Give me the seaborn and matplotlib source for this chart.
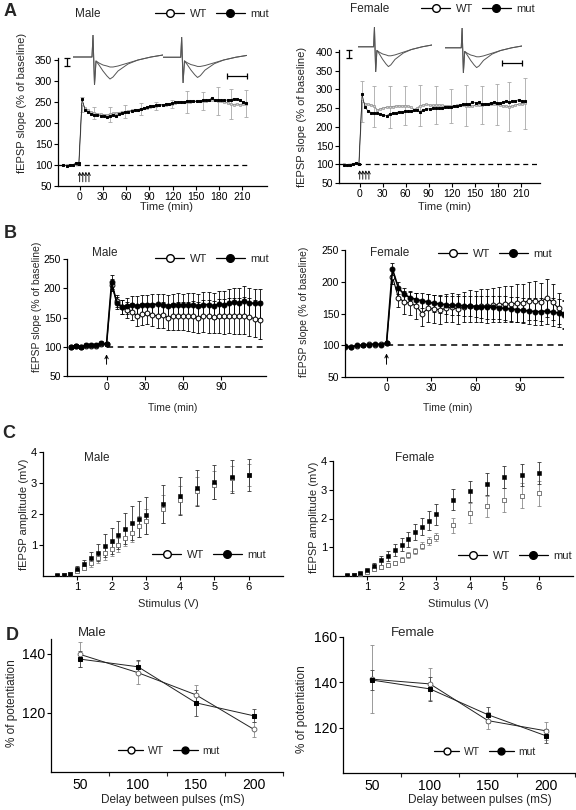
import numpy as np
import matplotlib
matplotlib.use("Agg")
import matplotlib.pyplot as plt
from matplotlib.lines import Line2D
import seaborn as sns

# -----------------------------
# Data
# -----------------------------
# A: LTP time course (sampled every 4 min)
time_a = np.arange(-21, 216, 4)
a_male_mut = [99, 98, 100, 101, 104, 105,
              258, 232, 226, 222, 220, 218, 217, 216, 215, 217,
              220, 216, 221, 224, 226, 227, 229, 231, 232, 234,
              236, 238, 240, 241, 242, 243, 244, 245, 246, 248,
              250, 250, 251, 250, 252, 253, 252, 252, 253, 254,
              255, 255, 260, 255, 256, 255, 254, 255, 256, 258,
              258, 254, 250, 248]
a_male_wt = [100, 99, 101, 100, 103, 104,
             245, 236, 230, 226, 224, 222, 221, 220, 219, 221,
             223, 224, 225, 226, 227, 229, 230, 231, 232, 233,
             235, 237, 239, 240, 241, 242, 243, 244, 245, 246,
             248, 249, 250, 250, 251, 251, 252, 252, 252, 253,
             253, 254, 255, 254, 253, 252, 250, 248, 245, 244,
             245, 244, 245, 246]
a_female_mut = [99, 97, 98, 100, 104, 101,
                288, 252, 242, 238, 237, 236, 234, 232, 230, 234,
                236, 238, 240, 240, 241, 242, 243, 244, 245, 240,
                246, 247, 248, 250, 249, 250, 251, 252, 253, 254,
                255, 256, 258, 260, 261, 262, 265, 264, 266, 260,
                262, 262, 264, 265, 264, 263, 266, 268, 266, 268,
                270, 272, 270, 268]
a_female_wt = [100, 98, 99, 101, 103, 102,
               268, 262, 260, 258, 255, 244, 248, 250, 252, 253,
               254, 255, 256, 255, 256, 255, 252, 246, 250, 256,
               258, 260, 258, 257, 258, 258, 257, 255, 256, 255,
               256, 257, 258, 258, 256, 255, 256, 257, 258, 258,
               260, 262, 260, 262, 260, 258, 256, 255, 254, 255,
               258, 260, 262, 263]
a_err_idx = [6, 10, 15, 20, 25, 30, 35, 40, 45, 50, 54, 59]
a_male_err = [18, 14, 18, 15, 14, 10, 10, 26, 22, 33, 36, 32]
a_female_err = [55, 55, 55, 52, 55, 50, 45, 55, 50, 55, 65, 68]
tetanus_a = [0, 4, 8, 12]

# example traces for inset (baseline vs potentiated)
trace_t = [0, 19, 20, 21.5, 23, 26, 30, 34, 37, 40, 45, 55, 65, 78, 90]
trace_small = [0, 0, 22, -28, -4, -6, -8, -9, -10, -10, -9, -6, -3, 0, 2]
trace_big = [0, 0, 22, -28, -4, -8, -14, -19, -22, -20, -14, -7, -3, 0, 2]

# B: time course (sampled every 4 min)
time_b = np.arange(-28, 121, 4)
b_male_mut = [100, 102, 100, 103, 103, 103, 106, 105,
              210, 175, 168, 170, 172, 170, 172, 172, 172, 173,
              172, 170, 172, 172, 171, 172, 171, 170, 172, 172,
              170, 173, 172, 174, 176, 175, 178, 175, 174, 174]
b_male_wt = [100, 101, 100, 102, 102, 102, 104, 104,
             205, 178, 168, 163, 160, 152, 156, 157, 155, 152,
             154, 150, 152, 153, 153, 152, 152, 150, 153, 152,
             151, 152, 152, 153, 153, 152, 153, 151, 148, 146]
b_male_mut_err = [3, 3, 3, 3, 3, 3, 3, 3,
                  12, 10, 12, 14, 15, 16, 17, 17, 18, 18,
                  18, 19, 19, 20, 20, 20, 21, 21, 21, 22,
                  22, 23, 23, 24, 24, 25, 25, 25, 24, 24]
b_male_wt_err = [3, 3, 3, 3, 3, 3, 3, 3,
                 10, 10, 12, 14, 15, 16, 18, 18, 20, 20,
                 22, 22, 23, 24, 24, 25, 26, 26, 27, 28,
                 28, 29, 30, 30, 31, 31, 32, 32, 32, 32]
b_female_mut = [99, 97, 100, 100, 101, 102, 101, 103,
                220, 190, 180, 175, 172, 170, 168, 166, 165, 164,
                163, 163, 162, 162, 161, 160, 160, 160, 159, 158,
                157, 156, 155, 154, 153, 153, 154, 152, 151, 149]
b_female_wt = [98, 97, 99, 100, 102, 101, 102, 104,
               208, 175, 168, 166, 162, 150, 158, 157, 156, 158,
               160, 157, 160, 162, 161, 162, 162, 163, 164, 165,
               165, 166, 167, 170, 170, 168, 175, 168, 158, 148]
b_female_mut_err = [2, 2, 2, 2, 2, 2, 2, 2,
                    10, 10, 10, 10, 11, 12, 12, 13, 14, 14,
                    15, 15, 16, 16, 17, 17, 18, 18, 18, 19,
                    19, 20, 20, 20, 21, 21, 21, 22, 22, 22]
b_female_wt_err = [2, 2, 2, 2, 2, 2, 2, 2,
                   12, 15, 18, 18, 20, 20, 22, 22, 22, 22,
                   23, 23, 24, 25, 25, 26, 27, 27, 28, 28,
                   29, 30, 30, 30, 31, 30, 30, 28, 25, 22]
tetanus_b = [0]

# C: input/output curves
stim_v = [0.4, 0.6, 0.8, 1.0, 1.2, 1.4, 1.6, 1.8, 2.0, 2.2,
          2.4, 2.6, 2.8, 3.0, 3.5, 4.0, 4.5, 5.0, 5.5, 6.0]
c_male_mut = [0.02, 0.03, 0.08, 0.23, 0.39, 0.59, 0.75, 0.98, 1.14, 1.33,
              1.53, 1.72, 1.84, 1.96, 2.32, 2.58, 2.83, 3.04, 3.2, 3.26]
c_male_wt = [0.01, 0.02, 0.05, 0.15, 0.27, 0.42, 0.58, 0.73, 0.86, 1.01,
             1.22, 1.4, 1.6, 1.76, 2.16, 2.45, 2.75, 2.95, 3.15, 3.25]
c_male_mut_err = [0.01, 0.01, 0.02, 0.08, 0.12, 0.2, 0.28, 0.38, 0.42, 0.45,
                  0.5, 0.55, 0.58, 0.6, 0.62, 0.6, 0.58, 0.55, 0.53, 0.52]
c_male_wt_err = [0.01, 0.01, 0.02, 0.05, 0.08, 0.12, 0.15, 0.2, 0.22, 0.22,
                 0.25, 0.3, 0.35, 0.4, 0.45, 0.45, 0.45, 0.45, 0.4, 0.35]
c_female_mut = [0.02, 0.05, 0.1, 0.2, 0.35, 0.55, 0.7, 0.9, 1.09, 1.27,
                1.52, 1.71, 1.93, 2.14, 2.66, 2.95, 3.21, 3.44, 3.52, 3.57]
c_female_wt = [0.01, 0.03, 0.06, 0.14, 0.23, 0.3, 0.37, 0.45, 0.57, 0.74,
               0.88, 1.06, 1.22, 1.36, 1.76, 2.2, 2.42, 2.64, 2.8, 2.87]
c_female_mut_err = [0.01, 0.02, 0.03, 0.06, 0.1, 0.15, 0.18, 0.2, 0.22, 0.25,
                    0.28, 0.3, 0.32, 0.35, 0.36, 0.37, 0.38, 0.38, 0.38, 0.38]
c_female_wt_err = [0.01, 0.01, 0.02, 0.04, 0.05, 0.06, 0.07, 0.08, 0.1, 0.1,
                   0.1, 0.12, 0.13, 0.15, 0.25, 0.35, 0.38, 0.42, 0.42, 0.45]

# D: paired-pulse facilitation
delays = [50, 100, 150, 200]
d_male_wt = [139.8, 133.6, 126.1, 114.4]
d_male_wt_err = [4.2, 3.8, 3.5, 2.5]
d_male_mut = [138.2, 135.6, 123.4, 119.0]
d_male_mut_err = [2.8, 2.2, 4.5, 2.2]
d_female_wt = [141.4, 139.3, 123.1, 118.6]
d_female_wt_err = [15, 7, 3.8, 4]
d_female_mut = [141.0, 137.1, 125.7, 116.4]
d_female_mut_err = [4.5, 5.2, 3.5, 3]

# -----------------------------
# Style / layout helpers
# -----------------------------
sns.set_style("ticks")
plt.rcParams['font.family'] = ['Liberation Sans', 'DejaVu Sans']

W, H = 576, 810
fig = plt.figure(figsize=(W / 100, H / 100), dpi=100)
GRAY = '#8a8a8a'
EGRAY = '#a8a8a8'


def px_axes(left, top, width, height):
    return fig.add_axes([left / W, 1 - (top + height) / H, width / W, height / H])


def style_axes(ax, fs):
    sns.despine(ax=ax)
    ax.tick_params(direction='out', length=3, width=0.8, labelsize=fs, pad=1.2, colors='k')
    for s in ('left', 'bottom'):
        ax.spines[s].set_linewidth(0.9)
        ax.spines[s].set_color('k')


def labels(ax, xlabel, xpos, ylabel, ypos, fs):
    ax.set_xlabel(xlabel, fontsize=fs)
    ax.xaxis.set_label_coords(xpos[0] / W, 1 - xpos[1] / H, transform=fig.transFigure)
    ax.xaxis.label.set_va('center')
    ax.set_ylabel(ylabel, fontsize=fs)
    ax.yaxis.set_label_coords(ypos[0] / W, 1 - ypos[1] / H, transform=fig.transFigure)
    ax.yaxis.label.set_va('center')


def wt_mut_legend(ax, x, y, fs=8, ms=5.5, hl=2.6):
    handles = [Line2D([], [], color='k', lw=0.9, marker='o', mfc='white', mec='k', ms=ms),
               Line2D([], [], color='k', lw=0.9, marker='o', mfc='k', mec='k', ms=ms)]
    ax.legend(handles, ['WT', 'mut'], loc='center', bbox_to_anchor=(x / W, 1 - y / H),
              bbox_transform=fig.transFigure, ncol=2, frameon=False, fontsize=fs,
              handlelength=hl, handletextpad=0.5, columnspacing=0.8, borderpad=0)


# -----------------------------
# Panel A
# -----------------------------
for rect, ylim, yticks, wt, mut, err, xlim, dash_end, xlab, ylab, leg in [
        ((58, 58, 209, 128), (50, 355), range(50, 351, 50), a_male_wt, a_male_mut,
         a_male_err, (-28, 242), 216, (167, 207), (22, 103), (212, 14)),
        ((339, 50, 201, 133), (50, 405), range(50, 401, 50), a_female_wt, a_female_mut,
         a_female_err, (-27, 235), 235, (444, 207), (302, 117), (478, 9))]:
    ax = px_axes(*rect)
    ax.hlines(100, xlim[0], dash_end, colors='k', linestyles=(0, (4, 3)), lw=0.9)
    ax.errorbar(time_a[a_err_idx], np.array(wt)[a_err_idx], yerr=err, fmt='none',
                ecolor=EGRAY, elinewidth=0.6, capsize=1.5, capthick=0.6)
    sns.lineplot(x=time_a, y=wt, ax=ax, color=GRAY, lw=0.8, marker='o', markersize=1.8,
                 mfc='#d0d0d0', mec=GRAY, mew=0.4, legend=False)
    sns.lineplot(x=time_a, y=mut, ax=ax, color='k', lw=0.4, marker='s', markersize=2,
                 mfc='k', mec='k', legend=False)
    for t in tetanus_a:
        ax.annotate('', xy=(t, 84), xytext=(t, 60),
                    arrowprops=dict(arrowstyle='->', lw=0.6, color='k',
                                    shrinkA=0, shrinkB=0, mutation_scale=5))
    ax.set_xlim(*xlim)
    ax.set_ylim(*ylim)
    ax.set_xticks(range(0, 211, 30))
    ax.set_yticks(list(yticks))
    style_axes(ax, 7.5)
    labels(ax, 'Time (min)', xlab, 'fEPSP slope (% of baseline)', ylab, 8)
    wt_mut_legend(ax, *leg)

# inset traces
for rect in [(73, 35, 90, 50), (163, 37, 84, 46), (358, 27, 74, 45), (445, 28, 77, 45)]:
    tax = px_axes(*rect)
    tax.plot(trace_t, trace_small, color='#555555', lw=0.7)
    tax.plot(trace_t, trace_big, color='#555555', lw=0.7)
    tax.set_xlim(min(trace_t), max(trace_t))
    tax.set_ylim(-28, 22)
    tax.axis('off')

# -----------------------------
# Panel B
# -----------------------------
for rect, wt, wte, mut, mute, xlim, xlab, ylab, leg in [
        ((67, 259, 199, 117), b_male_wt, b_male_wt_err, b_male_mut, b_male_mut_err,
         (-31, 125), (173, 408), (37, 307), (212, 259)),
        ((345, 250, 218, 127), b_female_wt, b_female_wt_err, b_female_mut, b_female_mut_err,
         (-28, 119), (448, 408), (304, 312), (495, 254))]:
    ax = px_axes(*rect)
    ax.hlines(100, 0, xlim[1], colors='k', linestyles=(0, (4, 3)), lw=1.1)
    ax.errorbar(time_b, wt, yerr=wte, fmt='none', ecolor='k', elinewidth=0.6,
                capsize=1.5, capthick=0.6)
    ax.errorbar(time_b, mut, yerr=mute, fmt='none', ecolor='k', elinewidth=0.6,
                capsize=1.5, capthick=0.6)
    sns.lineplot(x=time_b, y=wt, ax=ax, color='k', lw=0.8, marker='o', markersize=3.5,
                 mfc='white', mec='k', mew=0.7, legend=False)
    sns.lineplot(x=time_b, y=mut, ax=ax, color='k', lw=1.2, marker='o', markersize=3.5,
                 mfc='k', mec='k', legend=False)
    for t in tetanus_b:
        ax.annotate('', xy=(t, 87), xytext=(t, 70),
                    arrowprops=dict(arrowstyle='->', lw=0.7, color='k',
                                    shrinkA=0, shrinkB=0, mutation_scale=6))
    ax.set_xlim(*xlim)
    ax.set_ylim(50, 250)
    ax.set_xticks([0, 30, 60, 90])
    ax.set_yticks(range(50, 251, 50))
    style_axes(ax, 7.5)
    labels(ax, 'Time (min)', xlab, 'fEPSP slope (% of baseline)', ylab, 7.5)
    wt_mut_legend(ax, *leg)

# -----------------------------
# Panel C
# -----------------------------
for rect, wt, wte, mut, mute, xlab, ylab, leg in [
        ((43, 452, 240, 124), c_male_wt, c_male_wt_err, c_male_mut, c_male_mut_err,
         (168, 604), (24, 514), (209, 555)),
        ((333, 461, 240, 115), c_female_wt, c_female_wt_err, c_female_mut, c_female_mut_err,
         (458, 604), (314, 517), (515, 556))]:
    ax = px_axes(*rect)
    ax.errorbar(stim_v, wt, yerr=wte, fmt='none', ecolor=GRAY, elinewidth=0.6,
                capsize=1.3, capthick=0.6)
    ax.errorbar(stim_v, mut, yerr=mute, fmt='none', ecolor='#333333', elinewidth=0.6,
                capsize=1.3, capthick=0.6)
    sns.scatterplot(x=stim_v, y=wt, ax=ax, marker='s', s=7, color='white',
                    edgecolor='#666666', linewidth=0.6, zorder=3, legend=False)
    sns.scatterplot(x=stim_v, y=mut, ax=ax, marker='s', s=8, color='k',
                    edgecolor='k', linewidth=0.4, zorder=4, legend=False)
    ax.set_xlim(0, 7)
    ax.set_ylim(0, 4)
    ax.set_xticks(range(1, 7))
    ax.set_yticks([1, 2, 3, 4])
    style_axes(ax, 8)
    labels(ax, 'Stimulus (V)', xlab, 'fEPSP amplitude (mV)', ylab, 8)
    wt_mut_legend(ax, *leg)

# -----------------------------
# Panel D
# -----------------------------
for rect, wt, wte, mut, mute, ylim, yticks, xlab, ylab, leg in [
        ((51, 639, 232, 133), d_male_wt, d_male_wt_err, d_male_mut, d_male_mut_err,
         (100, 145), [120, 140], (173, 800), (12, 703), (169, 751)),
        ((343, 637, 232, 136), d_female_wt, d_female_wt_err, d_female_mut, d_female_mut_err,
         (100, 160), [120, 140, 160], (480, 800), (302, 709), (485, 752))]:
    ax = px_axes(*rect)
    ax.errorbar(delays, wt, yerr=wte, fmt='none', ecolor=GRAY, elinewidth=0.6,
                capsize=1.3, capthick=0.6)
    ax.errorbar(delays, mut, yerr=mute, fmt='none', ecolor='#444444', elinewidth=0.6,
                capsize=1.3, capthick=0.6)
    sns.lineplot(x=delays, y=wt, ax=ax, color='#222222', lw=0.7, marker='o', markersize=3.5,
                 mfc='white', mec='#555555', mew=0.6, legend=False)
    sns.lineplot(x=delays, y=mut, ax=ax, color='#222222', lw=0.7, marker='s', markersize=2.8,
                 mfc='k', mec='k', legend=False)
    ax.set_xlim(25, 225)
    ax.set_ylim(*ylim)
    ax.set_xticks(delays)
    ax.set_xticks([75, 125, 175, 225], minor=True)
    ax.set_yticks(yticks)
    style_axes(ax, 10)
    ax.tick_params(axis='x', which='major', length=0, pad=4)
    ax.tick_params(axis='x', which='minor', length=3, width=0.8)
    labels(ax, 'Delay between pulses (mS)', xlab, '% of potentiation', ylab, 8.5)
    wt_mut_legend(ax, *leg, fs=7.5, ms=5, hl=2.4)

# -----------------------------
# Overlay: letters, titles, scale bars
# -----------------------------
ov = fig.add_axes([0, 0, 1, 1])
ov.set_xlim(0, W)
ov.set_ylim(H, 0)
ov.axis('off')
ov.patch.set_alpha(0)

for letter, x, y in [('A', 10, 12), ('B', 10, 233), ('C', 9, 433), ('D', 12, 635)]:
    ov.text(x, y, letter, fontsize=13, fontweight='bold', ha='center', va='center')
for title, x, y, fs in [('Male', 88, 14, 8.5), ('Female', 370, 9, 8.5),
                        ('Male', 105, 253, 8.5), ('Female', 390, 253, 8.5),
                        ('Male', 97, 458, 8.5), ('Female', 415, 458, 8.5),
                        ('Male', 92, 633, 9.5), ('Female', 413, 633, 9.5)]:
    ov.text(x, y, title, fontsize=fs, ha='center', va='center')

# scale bars for the inset traces
for xs, ys, mk in [([67, 67], [58, 66], '_'), ([227, 247], [76, 76], '|'),
                   ([349, 349], [50, 58], '_'), ([502, 522], [63, 63], '|')]:
    ov.plot(xs, ys, color='k', lw=0.9, marker=mk, ms=4, mew=0.9)

fig.savefig('out.png', dpi=100)
